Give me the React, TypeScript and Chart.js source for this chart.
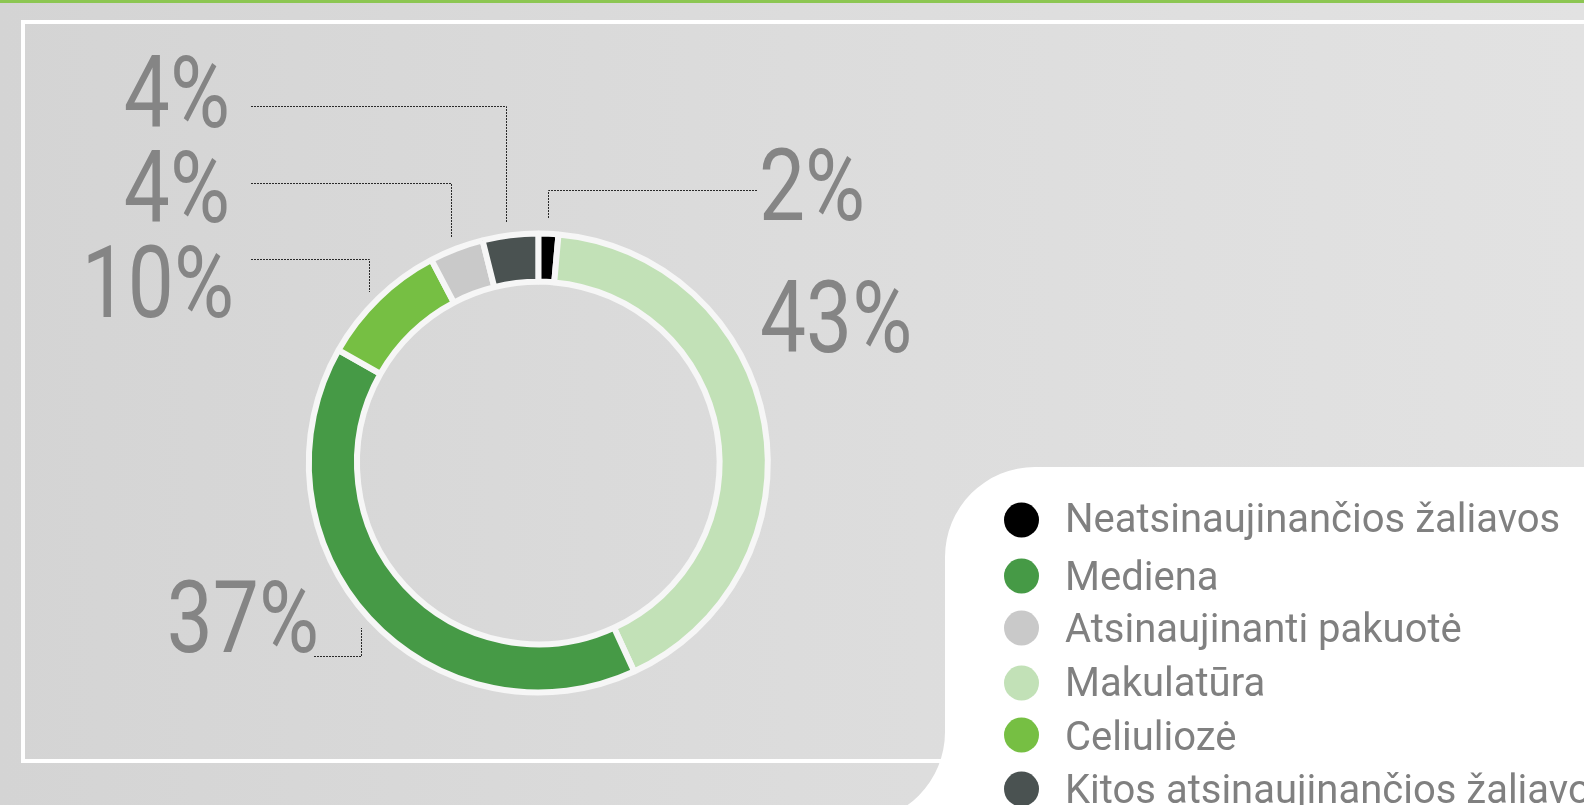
import React, { useEffect, useRef } from "react";
import { Chart, registerables } from "chart.js";

Chart.register(...registerables);

// ---- data (ring order, clockwise from the top) ----
const categories = [
  "Neatsinaujinančios žaliavos",
  "Makulatūra",
  "Mediena",
  "Celiuliozė",
  "Atsinaujinanti pakuotė",
  "Kitos atsinaujinančios žaliavos",
];
// arc shares as drawn in the picture
const shares = [1.4, 41.7, 40.0, 9.1, 3.8, 3.9];
// printed percentage labels
const percentLabels = ["2%", "43%", "37%", "10%", "4%", "4%"];
const colors = ["#000000", "#c2e1b7", "#469a46", "#76bf43", "#c9c9c9", "#4a5251"];
// legend shows the categories in this order
const legendOrder = [0, 2, 4, 1, 3, 5];

// ---- layout (not data) ----
const W = 1584;
const H = 805;
const legendBaselines = [532, 590, 642, 696, 750, 803];
const legendDotY = [520, 576, 628, 683, 735, 789];
const labelLayout: { x: number; y: number; align: CanvasTextAlign; leader: number[][] | null }[] = [
  { x: 759, y: 220, align: "left", leader: [[757, 190.5], [548.5, 190.5], [548.5, 218]] },
  { x: 760, y: 352, align: "left", leader: null },
  { x: 319, y: 652, align: "right", leader: [[314, 656.5], [361.5, 656.5], [361.5, 628]] },
  { x: 234, y: 317, align: "right", leader: [[251, 259.5], [369.5, 259.5], [369.5, 292]] },
  { x: 230, y: 222, align: "right", leader: [[251, 183.5], [451.5, 183.5], [451.5, 237]] },
  { x: 230, y: 127, align: "right", leader: [[251, 106.5], [506.5, 106.5], [506.5, 223]] },
];

const backgroundPlugin = {
  id: "bgPlugin",
  beforeDraw(chart: any) {
    const ctx: CanvasRenderingContext2D = chart.ctx;
    ctx.save();
    const g = ctx.createLinearGradient(0, 0, W, 0);
    g.addColorStop(0, "#d4d4d4");
    g.addColorStop(0.5, "#dcdcdc");
    g.addColorStop(1, "#e2e2e2");
    ctx.fillStyle = g;
    ctx.fillRect(0, 0, W, H);
    // top green bar
    ctx.fillStyle = "#8cc652";
    ctx.fillRect(0, 0, W, 3);
    // white frame
    ctx.strokeStyle = "#ffffff";
    ctx.lineWidth = 4;
    ctx.strokeRect(23, 22, 1600, 739);
    ctx.restore();
  },
};

const overlayPlugin = {
  id: "overlayPlugin",
  afterDraw(chart: any) {
    const ctx: CanvasRenderingContext2D = chart.ctx;
    ctx.save();
    // leader lines
    ctx.strokeStyle = "#2a2a2a";
    ctx.lineWidth = 1;
    ctx.setLineDash([2, 1]);
    labelLayout.forEach((l) => {
      if (!l.leader) return;
      ctx.beginPath();
      l.leader.forEach((p, i) => (i === 0 ? ctx.moveTo(p[0], p[1]) : ctx.lineTo(p[0], p[1])));
      ctx.stroke();
    });
    ctx.setLineDash([]);
    // percentage labels
    ctx.fillStyle = "#858585";
    ctx.font = "400 82px Roboto";
    ctx.textBaseline = "alphabetic";
    percentLabels.forEach((t, i) => {
      const l = labelLayout[i];
      ctx.save();
      ctx.translate(l.x, l.y);
      ctx.scale(1, 1.23);
      ctx.textAlign = l.align;
      ctx.fillText(t, 0, 0);
      ctx.restore();
    });
    // legend box
    ctx.fillStyle = "#ffffff";
    ctx.beginPath();
    ctx.moveTo(1600, 467);
    ctx.lineTo(1035, 467);
    ctx.arcTo(945, 467, 945, 557, 90);
    ctx.lineTo(945, 732);
    ctx.arc(855, 732, 90, 0, Math.PI / 2, false);
    ctx.lineTo(1600, 822);
    ctx.closePath();
    ctx.fill();
    // legend items
    ctx.font = "400 40px Roboto";
    ctx.textAlign = "left";
    legendOrder.forEach((idx, row) => {
      ctx.fillStyle = colors[idx];
      ctx.beginPath();
      ctx.arc(1021.5, legendDotY[row], 17.5, 0, Math.PI * 2);
      ctx.fill();
      ctx.fillStyle = "#808080";
      ctx.fillText(categories[idx], 1065, legendBaselines[row]);
    });
    ctx.restore();
  },
};

export default function App() {
  const ref = useRef<HTMLCanvasElement | null>(null);
  useEffect(() => {
    if (!ref.current) return;
    const chart = new Chart(ref.current, {
      type: "doughnut",
      data: {
        labels: categories,
        datasets: [
          {
            data: shares,
            backgroundColor: colors,
            borderColor: "#f6f6f6",
            borderWidth: 6,
            hoverOffset: 0,
          },
        ],
      },
      options: {
        responsive: false,
        animation: false,
        devicePixelRatio: 1,
        radius: 229.5,
        cutout: "79%",
        rotation: 0,
        layout: { padding: { top: 121, left: 0, right: 507.4, bottom: 0 } },
        plugins: {
          legend: { display: false },
          tooltip: { enabled: false },
        },
      } as any,
      plugins: [backgroundPlugin, overlayPlugin],
    });
    return () => chart.destroy();
  }, []);
  return (
    <div style={{ position: "absolute", left: 0, top: 0, width: W, height: H, overflow: "hidden" }}>
      <canvas ref={ref} width={W} height={H} style={{ display: "block", width: W, height: H }} />
    </div>
  );
}
